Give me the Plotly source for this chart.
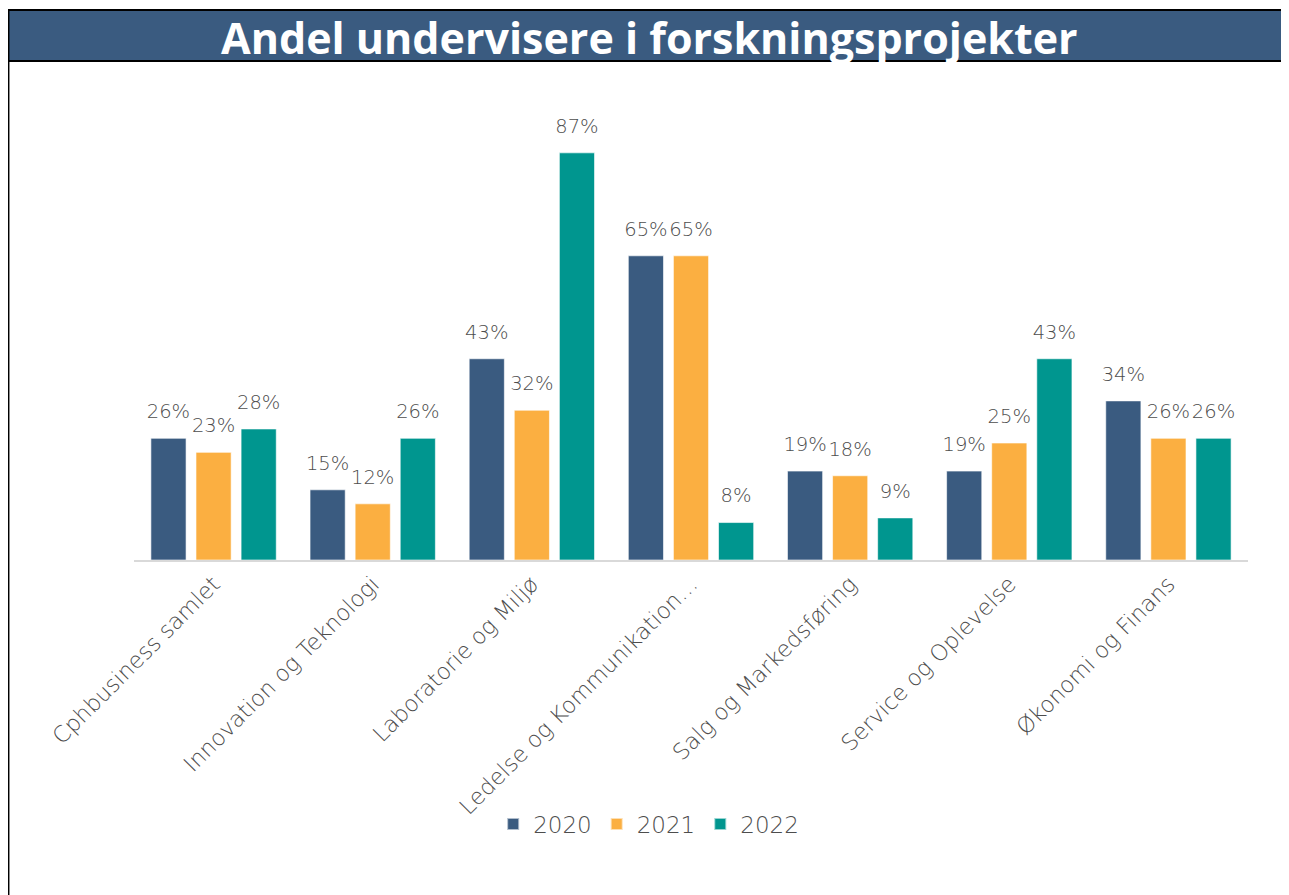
import plotly.graph_objects as go

categories = [
    "Cphbusiness samlet",
    "Innovation og Teknologi",
    "Laboratorie og Miljø",
    "Ledelse og Kommunikation…",
    "Salg og Markedsføring",
    "Service og Oplevelse",
    "Økonomi og Finans",
]
years = ["2020", "2021", "2022"]
andel_2020 = [0.26, 0.15, 0.43, 0.65, 0.19, 0.19, 0.34]
andel_2021 = [0.23, 0.12, 0.32, 0.65, 0.18, 0.25, 0.26]
andel_2022 = [0.28, 0.26, 0.87, 0.08, 0.09, 0.43, 0.26]
colors = ["#3a5b80", "#fbaf41", "#00968f"]

FONT = "DejaVu Sans"
GREY = "#4d4d4d"
BAR_GAP = 0.15

fig = go.Figure()
for year, values, color in zip(years, [andel_2020, andel_2021, andel_2022], colors):
    fig.add_trace(go.Bar(
        name=year, x=categories, y=values, offsetgroup=year,
        marker=dict(color=color, line=dict(color="rgba(255,255,255,0.6)", width=1)),
    ))
    # dataetiketter som tekst-scatter, grupperet ligesom søjlerne
    fig.add_trace(go.Scatter(
        x=categories, y=values, offsetgroup=year, mode="markers+text",
        marker=dict(size=23, color="rgba(0,0,0,0)"),
        text=[f"{v:.0%}" for v in values], textposition="top center",
        textfont=dict(family=FONT, size=19.5, color=GREY, weight=200),
        showlegend=False, cliponaxis=False, hoverinfo="skip",
    ))

fig.update_layout(
    width=1281, height=887,
    margin=dict(l=126, r=41, t=84, b=335),
    plot_bgcolor="white", paper_bgcolor="white",
    barmode="group", bargap=BAR_GAP, bargroupgap=0.22,
    scattermode="group", scattergap=BAR_GAP,
    font=dict(family=FONT, color=GREY),
    showlegend=True,
    legend=dict(orientation="h", x=0.462, xanchor="center", y=-0.564, yanchor="middle",
                font=dict(size=23, color=GREY, weight=200), itemsizing="constant"),
    shapes=[
        # titelbjælke
        dict(type="rect", xref="paper", yref="paper", x0=-0.1131, x1=1.045, y0=1.066, y1=1.175,
             fillcolor="#3a5b80", line=dict(color="black", width=2), layer="below"),
        # venstre kant
        dict(type="line", xref="paper", yref="paper", x0=-0.1127, x1=-0.1127, y0=-0.8, y1=1.175,
             line=dict(color="black", width=2)),
    ],
    annotations=[
        dict(text="<b>Andel undervisere i forskningsprojekter</b>", xref="paper", yref="paper",
             x=0.463, y=1.1175, xanchor="center", yanchor="middle", showarrow=False,
             font=dict(family="Open Sans", size=43, color="white")),
    ],
)
fig.update_xaxes(showline=True, linecolor="#d9d9d9", linewidth=2, ticks="",
                 tickangle=-45, tickfont=dict(size=22.5, color=GREY, family=FONT, weight=200))
fig.update_yaxes(range=[0, 1.0], visible=False, showgrid=False)

fig.write_html("out.html")
